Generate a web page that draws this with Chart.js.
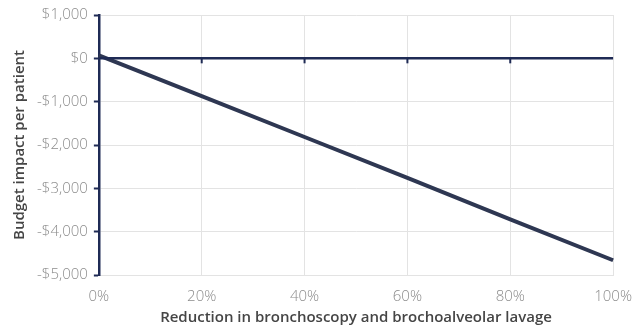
<!DOCTYPE html>
<html>
<head>
<meta charset="utf-8">
<script src="https://cdn.jsdelivr.net/npm/chart.js@4"></script>
<style>
  html, body { margin: 0; padding: 0; background: #fff; }
  #wrap { width: 632px; height: 325px; }
</style>
</head>
<body>
<div id="wrap"><canvas id="impact-chart"></canvas></div>
<script>
// Budget impact vs reduction in procedures

// Data
const reductionPct = [0, 20, 40, 60, 80, 100];
const budgetImpact = [70, -870, -1815, -2760, -3715, -4660];
const yTickValues = [1000, 0, -1000, -2000, -3000, -4000, -5000];

const NAVY = "#1f2b55";
const LINE = "#2e3752";
const GRID = "#e3e3e3";
const TICK_TEXT = "#8c8c8c";
const TITLE_TEXT = "#454545";

function formatMoney(v) {
    const sign = v < 0 ? "-" : "";
    return sign + "$" + Math.abs(v).toLocaleString("en-US");
}

// draws the dark zero line with small tick marks, using the chart's scales
const zeroLinePlugin = {
    id: "zeroLine",
    afterDatasetsDraw(chart) {
        const { ctx, chartArea, scales } = chart;
        const y0 = scales.y.getPixelForValue(0);
        ctx.save();
        ctx.strokeStyle = NAVY;
        ctx.lineWidth = 2.5;
        ctx.beginPath();
        ctx.moveTo(chartArea.left, y0);
        ctx.lineTo(chartArea.right, y0);
        ctx.stroke();
        ctx.lineWidth = 2;
        scales.x.ticks.forEach((t) => {
            if (t.value === 0 || t.value === 100) return;
            const x = scales.x.getPixelForValue(t.value);
            ctx.beginPath();
            ctx.moveTo(x, y0);
            ctx.lineTo(x, y0 + 5);
            ctx.stroke();
        });
        ctx.restore();
    },
};

const ctx = document.getElementById("impact-chart").getContext("2d");

new Chart(ctx, {
    type: "line",
    data: {
        datasets: [
            {
                data: reductionPct.map((x, i) => ({ x: x, y: budgetImpact[i] })),
                borderColor: LINE,
                borderWidth: 4,
                pointRadius: 0,
                tension: 0,
                clip: false,
            },
        ],
    },
    options: {
        responsive: true,
        maintainAspectRatio: false,
        animation: false,
        layout: { padding: { top: 14, right: 0, left: 11, bottom: 0 } },
        plugins: {
            legend: { display: false },
            tooltip: { enabled: false },
        },
        scales: {
            x: {
                type: "linear",
                min: 0,
                max: 100,
                ticks: {
                    stepSize: 20,
                    color: TICK_TEXT,
                    font: { family: "Open Sans", size: 15, weight: 300 },
                    padding: 0,
                    callback: (v) => v + "%",
                },
                // invisible tick marks keep the labels clear of the axis
                grid: {
                    color: GRID,
                    lineWidth: 1,
                    drawTicks: true,
                    tickLength: 13,
                    tickColor: "rgba(0,0,0,0)",
                },
                border: { color: GRID, width: 1 },
                title: {
                    display: true,
                    text: "Reduction in bronchoscopy and brochoalveolar lavage",
                    color: TITLE_TEXT,
                    font: { family: "Open Sans", size: 15, weight: 600 },
                    padding: { top: 3, bottom: -2 },
                },
            },
            y: {
                min: -5000,
                max: 1000,
                afterBuildTicks: (scale) => {
                    scale.ticks = yTickValues.map((v) => ({ value: v }));
                },
                ticks: {
                    color: TICK_TEXT,
                    font: { family: "Open Sans", size: 15, weight: 300 },
                    padding: 6,
                    callback: (v) => formatMoney(v),
                },
                grid: {
                    color: GRID,
                    lineWidth: 1,
                    tickColor: NAVY,
                    tickLength: 5,
                    tickWidth: 2,
                },
                border: { color: NAVY, width: 2.5 },
                title: {
                    display: true,
                    text: "Budget impact per patient",
                    color: TITLE_TEXT,
                    font: { family: "Open Sans", size: 15, weight: 600 },
                    padding: { top: 0, bottom: 2 },
                },
            },
        },
    },
    plugins: [zeroLinePlugin],
});
</script>
</body>
</html>
